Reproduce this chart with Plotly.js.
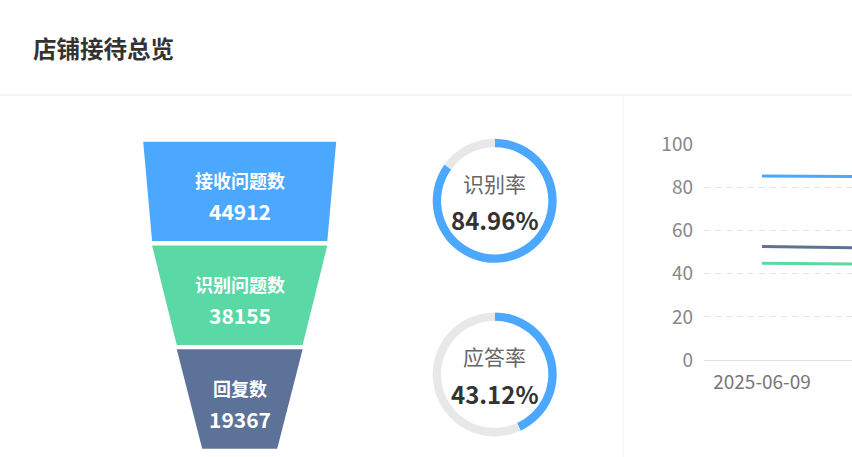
<!DOCTYPE html>
<html>
<head>
<meta charset="utf-8">
<script src="https://cdn.plot.ly/plotly-3.0.1.min.js"></script>
<style>
  html, body { margin: 0; padding: 0; background: #fff; overflow: hidden; }
  #chart { width: 852px; height: 457px; }
</style>
</head>
<body>
<div id="chart"></div>
<script>
// funnel: counts for each stage
var stageNames = ['接收问题数', '识别问题数', '回复数'];
var stageValues = [44912, 38155, 19367];
var stageColors = ['#4ca8ff', '#5ad8a6', '#5d7298'];

// rings
var rateNames = ['识别率', '应答率'];

// trend chart (second day is off the right edge)
var dates = ['2025-06-09', '2025-06-10'];
var seriesNames = ['识别率', '回复率', '应答率'];
var seriesA = [85.3, 85.0];
var seriesB = [52.6, 51.9];
var seriesC = [44.8, 44.4];
var yTicks = [0, 20, 40, 60, 80, 100];

var W = 852, H = 457;
var font = '"Noto Sans CJK SC", "Noto Sans", sans-serif';

// rates relative to the first stage
var rates = stageValues.map(function (v) { return v / stageValues[0]; });

// funnel geometry (pixel space on hidden axes)
var fCenter = 239.7, maxW = 193, minW = 75;
var fTop = 141.7, segH = 99.4, gap = 4.4;
function widthOf(r) { return minW + (maxW - minW) * r; }

var traces = [];
var annotations = [];

for (var i = 0; i < stageValues.length; i++) {
  var topW = widthOf(rates[i]);
  var botW = widthOf(i + 1 < rates.length ? rates[i + 1] : 0);
  var y0 = fTop + i * (segH + gap), y1 = y0 + segH;
  traces.push({
    type: 'scatter', mode: 'lines', fill: 'toself',
    x: [fCenter - topW / 2, fCenter + topW / 2, fCenter + botW / 2, fCenter - botW / 2, fCenter - topW / 2],
    y: [y0, y0, y1, y1, y0],
    fillcolor: stageColors[i], line: {width: 0, color: stageColors[i]},
    xaxis: 'x', yaxis: 'y', hoverinfo: 'skip', showlegend: false
  });
  var mid = (y0 + y1) / 2;
  annotations.push({
    xref: 'x', yref: 'y', x: fCenter, y: mid - 11.5, showarrow: false,
    xanchor: 'center', yanchor: 'middle',
    text: '<b>' + stageNames[i] + '</b>', font: {family: font, size: 18, color: '#fff'}
  });
  annotations.push({
    xref: 'x', yref: 'y', x: fCenter, y: mid + 19.5, showarrow: false,
    xanchor: 'center', yanchor: 'middle',
    text: '<b>' + stageValues[i] + '</b>', font: {family: font, size: 21, color: '#fff'}
  });
}

// rings
var ringCx = 494.7, ringR = 62;
var ringCy = [200.8, 374.4];
var ringRates = [rates[1] * 100, rates[2] * 100];
for (var k = 0; k < ringRates.length; k++) {
  var cy = ringCy[k];
  traces.push({
    type: 'pie', values: [ringRates[k], 100 - ringRates[k]],
    marker: {colors: ['#4ca8ff', '#e8e8e8'], line: {width: 0}},
    hole: 0.865, sort: false, direction: 'clockwise', rotation: 0,
    textinfo: 'none', hoverinfo: 'skip', showlegend: false,
    domain: {x: [(ringCx - ringR) / W, (ringCx + ringR) / W], y: [(H - cy - ringR) / H, (H - cy + ringR) / H]}
  });
  annotations.push({
    xref: 'paper', yref: 'paper', x: ringCx / W, y: (H - (cy - 18)) / H, showarrow: false,
    xanchor: 'center', yanchor: 'middle',
    text: rateNames[k], font: {family: font, size: 21, color: '#666'}
  });
  annotations.push({
    xref: 'paper', yref: 'paper', x: ringCx / W, y: (H - (cy + 19)) / H, showarrow: false,
    xanchor: 'center', yanchor: 'middle',
    text: '<b>' + ringRates[k].toFixed(2) + '%</b>', font: {family: font, size: 24, color: '#333'}
  });
}

// trend lines
var lineSets = [seriesA, seriesB, seriesC];
var lineColors = ['#4ca8ff', '#5d7298', '#5ad8a6'];
for (var s = 0; s < lineSets.length; s++) {
  traces.push({
    type: 'scatter', mode: 'lines', x: dates, y: lineSets[s], name: seriesNames[s],
    line: {color: lineColors[s], width: 3}, xaxis: 'x2', yaxis: 'y2',
    hoverinfo: 'skip', showlegend: false
  });
}

// title
annotations.push({
  xref: 'paper', yref: 'paper', x: 31 / W, y: (H - 48) / H, xanchor: 'left', yanchor: 'middle',
  showarrow: false,
  text: '<b>店铺接待总览</b>', font: {family: font, size: 23.5, color: '#333'}
});

var gridLeft = 704, band = 116;

var layout = {
  width: W, height: H,
  margin: {l: 0, r: 0, t: 0, b: 0},
  paper_bgcolor: '#fff', plot_bgcolor: 'rgba(0,0,0,0)',
  font: {family: font},
  xaxis: {domain: [0, 1], range: [0, W], visible: false, fixedrange: true},
  yaxis: {domain: [0, 1], range: [H, 0], visible: false, fixedrange: true},
  xaxis2: {
    domain: [gridLeft / W, 1], anchor: 'y2', type: 'category',
    range: [-0.5, (W - gridLeft) / band - 0.5],
    showgrid: false, zeroline: false, showline: true, linecolor: '#e0e0e0', linewidth: 1,
    ticks: '', ticklabelstandoff: 5,
    tickfont: {family: font, size: 19, color: '#777'}, fixedrange: true
  },
  yaxis2: {
    domain: [97 / H, (H - 144.3) / H], anchor: 'x2', range: [0, 100],
    tickvals: yTicks, showgrid: true, gridcolor: '#e3e3e3', griddash: '6px,5px', gridwidth: 1,
    zeroline: false, showline: false, ticks: '', ticklabelstandoff: 10,
    tickfont: {family: font, size: 19, color: '#888'}, fixedrange: true
  },
  shapes: [
    {type: 'line', xref: 'paper', yref: 'paper', x0: 0, x1: 1, y0: (H - 95) / H, y1: (H - 95) / H,
     line: {color: '#ebebeb', width: 1}},
    {type: 'line', xref: 'paper', yref: 'paper', x0: 623 / W, x1: 623 / W, y0: 0, y1: (H - 96) / H,
     line: {color: '#f3f3f3', width: 1}}
  ],
  annotations: annotations
};

Plotly.newPlot('chart', traces, layout, {displayModeBar: false, staticPlot: true});
</script>
</body>
</html>
